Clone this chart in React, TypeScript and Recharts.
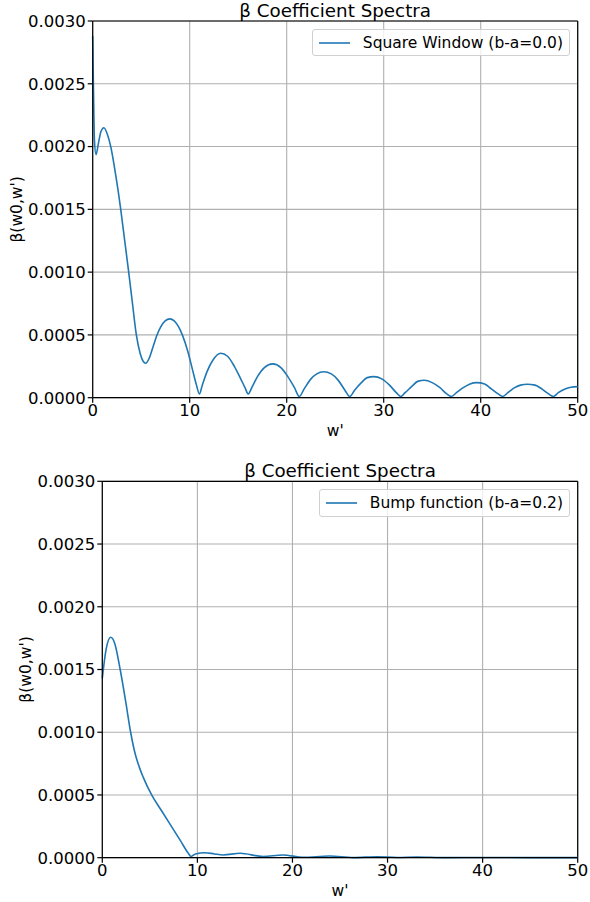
import { LineChart, Line, XAxis, YAxis, CartesianGrid, ReferenceLine } from 'recharts';

// Square window spectrum, sampled along w'
const squareW = [
  0, 0.08, 0.18, 0.34, 0.6, 0.85, 1.16, 1.5, 1.86, 2.4,
  2.89, 3.3, 3.71, 4.1, 4.5, 4.9, 5.2, 5.46, 5.8, 6.2,
  6.63, 7.0, 7.5, 7.94, 8.4, 8.8, 9.24, 9.8, 10.3, 10.7,
  11.0, 11.3, 11.8, 12.4, 13.2, 13.9, 14.6, 15.2, 15.7, 16.04,
  16.4, 17.0, 17.7, 18.56, 19.4, 20.1, 20.8, 21.3, 21.8, 22.5,
  23.1, 23.8, 24.6, 25.3, 26.0, 26.5, 27.0, 27.7, 28.3, 29.0,
  29.8, 30.6, 31.3, 31.75, 32.2, 32.9, 33.5, 34.2, 35.0, 35.8,
  36.5, 36.97, 37.5, 38.2, 38.9, 39.6, 40.4, 41.1, 41.8, 42.27,
  42.8, 43.5, 44.1, 44.8, 45.6, 46.3, 47.0, 47.48, 48.0, 48.7,
  49.3, 50,
];
const squareBeta = [
  0.00288, 0.00245, 0.00205, 0.001935, 0.00203, 0.00212, 0.00215, 0.0021, 0.002, 0.00176,
  0.0015, 0.00125, 0.001, 0.00075, 0.0005, 0.00035, 0.00029, 0.000274, 0.00031, 0.0004,
  0.0005, 0.000562, 0.000613, 0.000628, 0.000612, 0.000572, 0.0005, 0.00037, 0.00022, 0.0001,
  0.00003, 0.0001, 0.00021, 0.0003, 0.000354, 0.00033, 0.00025, 0.00016, 0.00008, 0.00003,
  0.00008, 0.00017, 0.00024, 0.000269, 0.00024, 0.00017, 0.00008, 0.00001, 0.00007, 0.00015,
  0.00019, 0.000207, 0.00019, 0.00014, 0.00006, 0.00001, 0.00006, 0.00012, 0.00016, 0.000168,
  0.00015, 0.0001, 0.00004, 0.00001, 0.00004, 0.00009, 0.00013, 0.000139, 0.00012, 0.00008,
  0.00003, 0.00001, 0.00004, 0.00008, 0.00011, 0.00012, 0.00011, 0.00007, 0.00003, 0.00001,
  0.00004, 0.00008, 0.0001, 0.000107, 0.0001, 0.00007, 0.00003, 0.00001, 0.00004, 0.00007,
  0.000083, 0.000088,
];

// Bump function spectrum
const bumpW = [
  0, 0.4, 0.88, 1.3, 1.88, 2.45, 2.98, 3.45, 3.9, 4.31,
  5.19, 6.2, 7.3, 8.2, 9.05, 9.33, 9.8, 10.8, 11.8, 12.7,
  14.5, 16.9, 19, 21.1, 23.9, 26.4, 28.9, 31, 33.1, 36,
  40, 45, 50,
];
const bumpBeta = [
  0.00143, 0.00166, 0.001757, 0.00171, 0.0015, 0.00125, 0.001, 0.00083, 0.00072, 0.00064,
  0.0005, 0.000378, 0.000246, 0.000138, 0.000035, 0.00001, 0.00003, 0.00004, 0.00003, 0.000022,
  0.000035, 0.00001, 0.000022, 0.000003, 0.000013, 0.000001, 0.000008, 0.000002, 0.000006, 0.000001,
  0.000002, 0.000001, 0.000001,
];

const xTicks = [0, 10, 20, 30, 40, 50];
const yTicks = [0, 0.0005, 0.001, 0.0015, 0.002, 0.0025, 0.003];

const TITLE = 'β Coefficient Spectra';
const X_LABEL = "w'";
const Y_LABEL = "β(w0,w')";

const FONT = "'DejaVu Sans', sans-serif";
const BLUE = '#1f77b4';
const W = 590;
const H = 451;
const PLOT_RIGHT = 577.7;
const XAXIS_H = 40;

type PanelProps = {
  top: number;
  w: number[];
  beta: number[];
  legend: string;
  plotLeft: number;
  plotTop: number;
  plotBottom: number;
  yLabelX: number;
};

const Panel = ({ top, w, beta, legend, plotLeft, plotTop, plotBottom, yLabelX }: PanelProps) => {
  const data = w.map((v, i) => ({ w: v, beta: beta[i] }));
  const midX = (plotLeft + PLOT_RIGHT) / 2;
  const midY = (plotTop + plotBottom) / 2;

  return (
    <div style={{ position: 'absolute', left: 0, top, width: W, height: H }}>
      <LineChart
        width={W}
        height={H}
        data={data}
        margin={{ top: plotTop, right: W - PLOT_RIGHT, left: 0, bottom: H - plotBottom - XAXIS_H }}
        style={{ fontFamily: FONT }}
      >
        <CartesianGrid stroke="#b0b0b0" strokeWidth={1.1} />
        <XAxis
          dataKey="w"
          type="number"
          domain={[0, 50]}
          ticks={xTicks}
          height={XAXIS_H}
          tickSize={5}
          tickMargin={2}
          axisLine={{ stroke: '#000', strokeWidth: 1.2 }}
          tickLine={{ stroke: '#000', strokeWidth: 1.2 }}
          tick={{ fill: '#000', fontSize: 16.5, fontFamily: FONT }}
          label={{ value: X_LABEL, position: 'insideBottom', offset: 1.3, fill: '#000', fontSize: 15.5, fontFamily: FONT }}
        />
        <YAxis
          type="number"
          domain={[0, 0.003]}
          ticks={yTicks}
          width={plotLeft}
          tickSize={5}
          tickMargin={2}
          tickFormatter={(v: number) => v.toFixed(4)}
          axisLine={{ stroke: '#000', strokeWidth: 1.2 }}
          tickLine={{ stroke: '#000', strokeWidth: 1.2 }}
          tick={{ fill: '#000', fontSize: 16.5, fontFamily: FONT }}
        />
        <ReferenceLine y={0.003} stroke="#000" strokeWidth={1.2} />
        <ReferenceLine x={50} stroke="#000" strokeWidth={1.2} />
        <Line
          type="monotone"
          dataKey="beta"
          stroke={BLUE}
          strokeWidth={1.6}
          dot={false}
          activeDot={false}
          isAnimationActive={false}
        />
      </LineChart>

      {/* title and rotated y label */}
      <svg
        width={W}
        height={H}
        style={{ position: 'absolute', left: 0, top: 0, pointerEvents: 'none' }}
      >
        <text x={midX} y={plotTop - 4.3} textAnchor="middle" fontSize={18.3} fontFamily={FONT} fill="#000">
          {TITLE}
        </text>
        <text
          transform={`translate(${yLabelX}, ${midY}) rotate(-90)`}
          textAnchor="middle"
          fontSize={15.5}
          fontFamily={FONT}
          fill="#000"
        >
          {Y_LABEL}
        </text>
      </svg>

      {/* legend box */}
      <div
        style={{
          position: 'absolute',
          right: W - (PLOT_RIGHT - 7.7),
          top: plotTop + 7.9,
          height: 27.5,
          boxSizing: 'border-box',
          display: 'flex',
          alignItems: 'center',
          padding: '0 6px',
          border: '1px solid #d0d0d0',
          borderRadius: 3,
          background: 'rgba(255,255,255,0.8)',
          fontFamily: FONT,
          fontSize: 15.5,
          color: '#000',
          whiteSpace: 'nowrap',
        }}
      >
        <svg width={31} height={4} style={{ marginRight: 12.4 }}>
          <line x1={0} y1={2} x2={31} y2={2} stroke={BLUE} strokeWidth={1.6} />
        </svg>
        <span>{legend}</span>
      </div>
    </div>
  );
};

export default function App() {
  return (
    <div style={{ position: 'absolute', left: 0, top: 0, width: W, height: 902, background: '#fff' }}>
      <Panel
        top={0}
        w={squareW}
        beta={squareBeta}
        legend="Square Window (b-a=0.0)"
        plotLeft={92.7}
        plotTop={21}
        plotBottom={397.7}
        yLabelX={21.8}
      />
      <Panel
        top={451}
        w={bumpW}
        beta={bumpBeta}
        legend="Bump function (b-a=0.2)"
        plotLeft={102.3}
        plotTop={30.3}
        plotBottom={406.7}
        yLabelX={31.1}
      />
    </div>
  );
}
